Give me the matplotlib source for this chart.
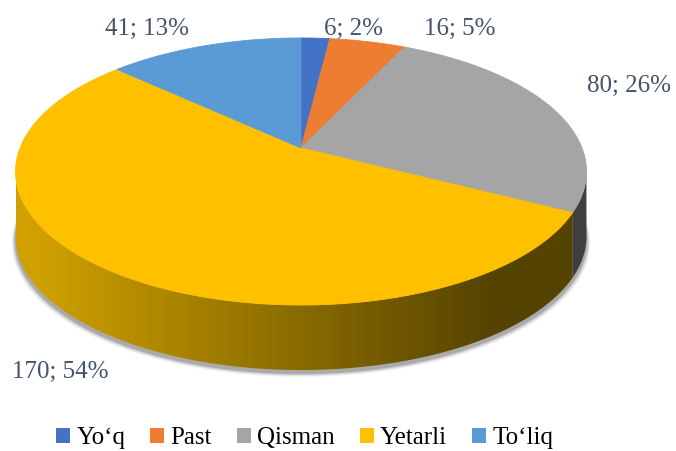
import numpy as np
import matplotlib.pyplot as plt
from matplotlib.patches import Polygon, Patch
from matplotlib.colors import LinearSegmentedColormap
from matplotlib.font_manager import FontProperties

categories = ['Yo\u2018q', 'Past', 'Qisman', 'Yetarli', 'To\u2018liq']
values = [6, 16, 80, 170, 41]
colors = ['#4472C4', '#ED7D31', '#A5A5A5', '#FFC000', '#5B9BD5']
side_dark = ['#2B4A80', '#9A4E1A', '#3F3F3F', '#554300', '#3A6590']
side_light = ['#3A62AA', '#C86A28', '#6A6A6A', '#CFA000', '#4F86BA']

# label anchors (layout, baseline)
label_pos = [(354, 35), (460, 35), (629, 92), (60, 378), (147, 35)]

plt.rcParams['font.family'] = ['Liberation Serif', 'DejaVu Serif']
serif = FontProperties(family=['Liberation Serif', 'DejaVu Serif'], size=18)

fig = plt.figure(figsize=(6.76, 4.51), dpi=100)
ax = fig.add_axes([0, 0, 1, 1])
ax.set_xlim(0, 676)
ax.set_ylim(451, 0)
ax.axis('off')

# perspective pie geometry
cx, cy, rx, ry, p = 301, 148, 281, 129.4, 0.176
depth = 65


def rim(t, dy=0):
    r = np.radians(t)
    X, Y = np.sin(r), -np.cos(r)
    s = 1 / (1 - p * Y)
    return cx + rx * X * s, cy + ry * Y * s + dy


total = sum(values)
bounds = np.concatenate([[0], np.cumsum(values) / total * 360])

tt = np.linspace(0, 360, 3601)
xx, yy = rim(tt)
t_right, t_left = tt[np.argmax(xx)], tt[np.argmin(xx)]

# shadow under the pie
for k, a in enumerate([0.04, 0.07, 0.1, 0.16]):
    g = 4 - k
    bx, by = rim(tt, depth + 3)
    ax.fill(cx + (bx - cx) * (1 + g / 280), by + g, color='black', alpha=a,
            lw=0, zorder=0)

# side walls (front half only)
for i in range(len(values)):
    t0, t1 = max(bounds[i], t_right), min(bounds[i + 1], t_left)
    if t1 <= t0:
        continue
    ts = np.linspace(t0, t1, 150)
    xs, ys = rim(ts)
    xb, yb = rim(ts[::-1], depth)
    poly = Polygon(np.column_stack([np.concatenate([xs, xb]),
                                    np.concatenate([ys, yb])]),
                   closed=True, facecolor='none', edgecolor='none')
    ax.add_patch(poly)
    cmap = LinearSegmentedColormap.from_list('s', [side_light[i], side_dark[i]])
    grad = np.linspace(0, 1, 256).reshape(1, -1)
    if i == 3:
        grad = np.clip(np.linspace(-0.05, 1.2, 256), 0, 1).reshape(1, -1)
    im = ax.imshow(grad, cmap=cmap,
                   extent=(xx.min(), xx.max(), yy.max() + depth + 2, yy.min()),
                   aspect='auto', zorder=1)
    im.set_clip_path(poly)

# top face
for i in range(len(values)):
    ts = np.linspace(bounds[i], bounds[i + 1], 200)
    xs, ys = rim(ts)
    pts = np.vstack([[(cx, cy)], np.column_stack([xs, ys])])
    ax.add_patch(Polygon(pts, closed=True, facecolor=colors[i],
                         edgecolor=colors[i], lw=0.6, zorder=2))

# data labels
for i, v in enumerate(values):
    pct = round(v / total * 100)
    ax.text(label_pos[i][0], label_pos[i][1], f'{v}; {pct}%', fontproperties=serif,
            color='#44546A', ha='center', va='baseline', zorder=3)

handles = [Patch(facecolor=c, edgecolor='none') for c in colors]
ax.legend(handles, categories, loc='center', bbox_to_anchor=(0.451, 0.028),
          ncol=5, frameon=False, prop=serif, handlelength=0.56,
          handleheight=0.56, handletextpad=0.25, columnspacing=1.0,
          borderpad=0, borderaxespad=0)

fig.savefig('out.png', dpi=100)
